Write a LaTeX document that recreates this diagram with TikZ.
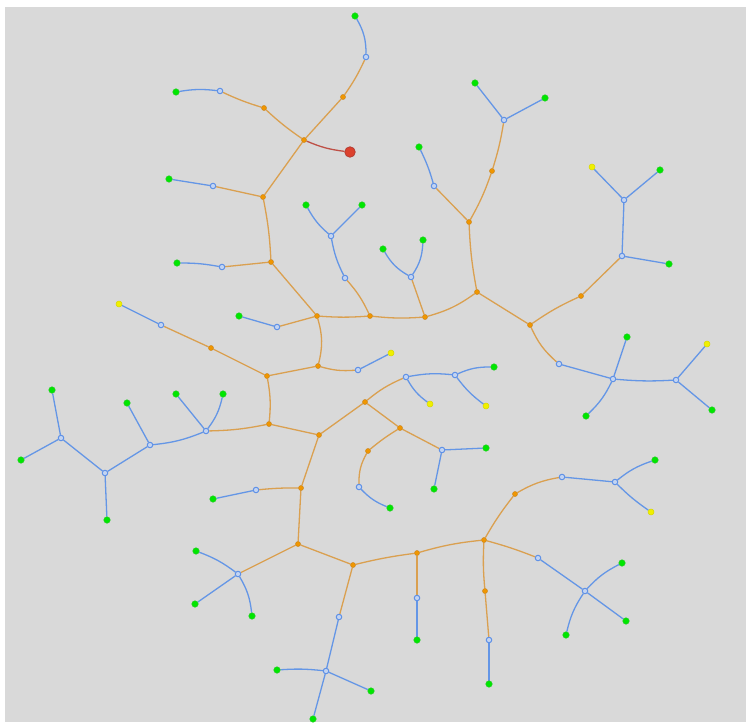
\documentclass[tikz,border=0pt]{standalone}
\usetikzlibrary{backgrounds}
\pgfdeclarelayer{bgl}
\pgfdeclarelayer{edgel}
\pgfsetlayers{bgl,edgel,main}
\definecolor{bgc}{RGB}{217,217,217}
\definecolor{oedge}{RGB}{218,160,80}
\definecolor{bedge}{RGB}{100,150,230}
\definecolor{redge}{RGB}{190,80,70}
\definecolor{ofill}{RGB}{240,150,0}
\definecolor{odraw}{RGB}{205,135,30}
\definecolor{bfill}{RGB}{195,212,242}
\definecolor{bdraw}{RGB}{95,145,230}
\definecolor{gfill}{RGB}{0,230,0}
\definecolor{gdraw}{RGB}{40,205,40}
\definecolor{yfill}{RGB}{240,240,0}
\definecolor{ydraw}{RGB}{215,215,0}
\definecolor{rfill}{RGB}{220,65,45}
\definecolor{rdraw}{RGB}{180,60,50}
\tikzset{
  on/.style={circle,fill=ofill,draw=odraw,line width=0.5pt,inner sep=0pt,minimum size=5pt},
  bn/.style={circle,fill=bfill,draw=bdraw,line width=1pt,inner sep=0pt,minimum size=5.5pt},
  gn/.style={circle,fill=gfill,draw=gdraw,line width=0.5pt,inner sep=0pt,minimum size=6.5pt},
  yn/.style={circle,fill=yfill,draw=ydraw,line width=0.5pt,inner sep=0pt,minimum size=6pt},
  rn/.style={circle,fill=rfill,draw=rdraw,line width=0.8pt,inner sep=0pt,minimum size=10.5pt},
  oe/.style={draw=oedge,line width=1.3pt},
  be/.style={draw=bedge,line width=1.3pt},
  re/.style={draw=redge,line width=1.3pt},
}
\begin{document}
\begin{tikzpicture}[x=1pt,y=1pt]
\useasboundingbox (0,0) rectangle (746,-722);
\begin{pgfonlayer}{bgl}
\fill[white] (0,0) rectangle (746,-722);
\fill[bgc] (5,-7) rectangle (746,-722);
\end{pgfonlayer}
% orange nodes
\node[on] (o1) at (304,-140) {};
\node[on] (o2) at (343,-97) {};
\node[on] (o3) at (264,-108) {};
\node[on] (o4) at (263,-197) {};
\node[on] (o5) at (271,-262) {};
\node[on] (o6) at (317,-316) {};
\node[on] (o7) at (370,-316) {};
\node[on] (o8) at (425,-317) {};
\node[on] (o9) at (477,-292) {};
\node[on] (o10) at (469,-222) {};
\node[on] (o11) at (492,-171) {};
\node[on] (o12) at (530,-325) {};
\node[on] (o13) at (581,-296) {};
\node[on] (o14) at (318,-366) {};
\node[on] (o15) at (267,-376) {};
\node[on] (o16) at (211,-348) {};
\node[on] (o17) at (269,-424) {};
\node[on] (o18) at (319,-435) {};
\node[on] (o19) at (365,-402) {};
\node[on] (o20) at (400,-428) {};
\node[on] (o21) at (368,-451) {};
\node[on] (o22) at (301,-488) {};
\node[on] (o23) at (298,-544) {};
\node[on] (o24) at (353,-565) {};
\node[on] (o25) at (417,-553) {};
\node[on] (o26) at (484,-540) {};
\node[on] (o27) at (485,-591) {};
\node[on] (o28) at (515,-494) {};
% blue nodes
\node[bn] (b1) at (366,-57) {};
\node[bn] (b2) at (220,-91) {};
\node[bn] (b3) at (213,-186) {};
\node[bn] (b4) at (222,-267) {};
\node[bn] (b5) at (277,-327) {};
\node[bn] (b6) at (345,-278) {};
\node[bn] (b7) at (331,-236) {};
\node[bn] (b8) at (411,-277) {};
\node[bn] (b9) at (434,-186) {};
\node[bn] (b10) at (504,-120) {};
\node[bn] (b11) at (622,-256) {};
\node[bn] (b12) at (624,-200) {};
\node[bn] (b13) at (559,-364) {};
\node[bn] (b14) at (613,-379) {};
\node[bn] (b15) at (676,-380) {};
\node[bn] (b16) at (358,-370) {};
\node[bn] (b17) at (161,-325) {};
\node[bn] (b18) at (206,-431) {};
\node[bn] (b19) at (150,-445) {};
\node[bn] (b20) at (105,-473) {};
\node[bn] (b21) at (61,-438) {};
\node[bn] (b22) at (406,-377) {};
\node[bn] (b23) at (455,-375) {};
\node[bn] (b24) at (359,-487) {};
\node[bn] (b25) at (442,-450) {};
\node[bn] (b26) at (256,-490) {};
\node[bn] (b27) at (238,-574) {};
\node[bn] (b28) at (339,-617) {};
\node[bn] (b29) at (326,-671) {};
\node[bn] (b30) at (417,-598) {};
\node[bn] (b31) at (489,-640) {};
\node[bn] (b32) at (562,-477) {};
\node[bn] (b33) at (615,-482) {};
\node[bn] (b34) at (538,-558) {};
\node[bn] (b35) at (585,-591) {};
% leaves
\node[gn] (g1) at (355,-16) {};
\node[gn] (g2) at (176,-92) {};
\node[gn] (g3) at (169,-179) {};
\node[gn] (g4) at (177,-263) {};
\node[gn] (g5) at (239,-316) {};
\node[gn] (g6) at (306,-205) {};
\node[gn] (g7) at (362,-205) {};
\node[gn] (g8) at (383,-249) {};
\node[gn] (g9) at (423,-240) {};
\node[gn] (g10) at (419,-147) {};
\node[gn] (g11) at (475,-83) {};
\node[gn] (g12) at (545,-98) {};
\node[gn] (g13) at (669,-264) {};
\node[gn] (g14) at (660,-170) {};
\node[yn] (y1) at (592,-167) {};
\node[gn] (g15) at (627,-337) {};
\node[gn] (g16) at (586,-416) {};
\node[yn] (y2) at (707,-344) {};
\node[gn] (g17) at (712,-410) {};
\node[yn] (y3) at (391,-353) {};
\node[yn] (y4) at (119,-304) {};
\node[gn] (g18) at (176,-394) {};
\node[gn] (g19) at (223,-394) {};
\node[gn] (g20) at (127,-403) {};
\node[gn] (g21) at (107,-520) {};
\node[gn] (g22) at (52,-390) {};
\node[gn] (g23) at (21,-460) {};
\node[yn] (y5) at (430,-404) {};
\node[gn] (g24) at (494,-367) {};
\node[yn] (y6) at (486,-406) {};
\node[gn] (g25) at (390,-508) {};
\node[gn] (g26) at (486,-448) {};
\node[gn] (g27) at (434,-489) {};
\node[gn] (g28) at (213,-499) {};
\node[gn] (g29) at (196,-551) {};
\node[gn] (g30) at (195,-604) {};
\node[gn] (g31) at (252,-616) {};
\node[gn] (g32) at (277,-670) {};
\node[gn] (g33) at (371,-691) {};
\node[gn] (g34) at (313,-719) {};
\node[gn] (g35) at (417,-640) {};
\node[gn] (g36) at (489,-684) {};
\node[gn] (g37) at (655,-460) {};
\node[yn] (y7) at (651,-512) {};
\node[gn] (g38) at (622,-563) {};
\node[gn] (g39) at (626,-621) {};
\node[gn] (g40) at (566,-635) {};
\node[rn] (r) at (350,-152) {};
\begin{pgfonlayer}{edgel}
\draw[re] (o1) to[bend right=8] (r);
% orange edges
\draw[oe] (o1) -- (o2);
\draw[oe] (o2) to[bend right=5] (b1);
\draw[oe] (o1) to[bend left=4] (o3);
\draw[oe] (o3) to[bend left=4] (b2);
\draw[oe] (o1) -- (o4);
\draw[oe] (o4) -- (b3);
\draw[oe] (o4) to[bend left=4] (o5);
\draw[oe] (o5) -- (b4);
\draw[oe] (o5) -- (o6);
\draw[oe] (o6) -- (b5);
\draw[oe] (o6) to[bend right=4] (o7);
\draw[oe] (o7) to[bend right=8] (b6);
\draw[oe] (o7) to[bend right=5] (o8);
\draw[oe] (o8) -- (b8);
\draw[oe] (o8) to[bend right=10] (o9);
\draw[oe] (o9) to[bend left=4] (o10);
\draw[oe] (o10) -- (b9);
\draw[oe] (o10) to[bend right=5] (o11);
\draw[oe] (o11) to[bend right=4] (b10);
\draw[oe] (o9) -- (o12);
\draw[oe] (o12) to[bend left=5] (o13);
\draw[oe] (o13) -- (b11);
\draw[oe] (o12) to[bend right=12] (b13);
\draw[oe] (o6) to[bend left=15] (o14);
\draw[oe] (o14) to[bend right=10] (b16);
\draw[oe] (o14) -- (o15);
\draw[oe] (o15) -- (o16);
\draw[oe] (o16) -- (b17);
\draw[oe] (o15) to[bend left=8] (o17);
\draw[oe] (o17) to[bend left=5] (b18);
\draw[oe] (o17) -- (o18);
\draw[oe] (o18) -- (o19);
\draw[oe] (o19) to[bend left=8] (b22);
\draw[oe] (o19) -- (o20);
\draw[oe] (o20) to[bend right=4] (o21);
\draw[oe] (o21) to[bend right=15] (b24);
\draw[oe] (o20) -- (b25);
\draw[oe] (o18) -- (o22);
\draw[oe] (o22) to[bend right=3] (b26);
\draw[oe] (o22) -- (o23);
\draw[oe] (o23) -- (b27);
\draw[oe] (o23) -- (o24);
\draw[oe] (o24) -- (b28);
\draw[oe] (o24) to[bend left=3] (o25);
\draw[oe] (o25) -- (b30);
\draw[oe] (o25) to[bend left=5] (o26);
\draw[oe] (o26) to[bend right=4] (o27);
\draw[oe] (o27) -- (b31);
\draw[oe] (o26) to[bend left=4] (o28);
\draw[oe] (o28) to[bend left=10] (b32);
\draw[oe] (o26) to[bend left=3] (b34);
% blue edges
\draw[be] (b1) to[bend right=15] (g1);
\draw[be] (b2) to[bend right=8] (g2);
\draw[be] (b3) -- (g3);
\draw[be] (b4) to[bend right=5] (g4);
\draw[be] (b5) -- (g5);
\draw[be] (b6) to[bend left=8] (b7);
\draw[be] (b7) to[bend left=10] (g6);
\draw[be] (b7) -- (g7);
\draw[be] (b8) to[bend left=15] (g8);
\draw[be] (b8) to[bend right=15] (g9);
\draw[be] (b9) to[bend right=5] (g10);
\draw[be] (b10) -- (g11);
\draw[be] (b10) -- (g12);
\draw[be] (b11) -- (g13);
\draw[be] (b11) -- (b12);
\draw[be] (b12) -- (g14);
\draw[be] (b12) -- (y1);
\draw[be] (b13) -- (b14);
\draw[be] (b14) -- (g15);
\draw[be] (b14) to[bend left=10] (g16);
\draw[be] (b14) to[bend right=4] (b15);
\draw[be] (b15) -- (y2);
\draw[be] (b15) -- (g17);
\draw[be] (b16) -- (y3);
\draw[be] (b17) -- (y4);
\draw[be] (b18) -- (g18);
\draw[be] (b18) to[bend right=12] (g19);
\draw[be] (b18) to[bend left=8] (b19);
\draw[be] (b19) -- (g20);
\draw[be] (b19) -- (b20);
\draw[be] (b20) -- (g21);
\draw[be] (b20) -- (b21);
\draw[be] (b21) -- (g22);
\draw[be] (b21) -- (g23);
\draw[be] (b22) to[bend right=12] (y5);
\draw[be] (b22) to[bend left=8] (b23);
\draw[be] (b23) to[bend left=12] (g24);
\draw[be] (b23) to[bend right=8] (y6);
\draw[be] (b24) to[bend right=12] (g25);
\draw[be] (b25) -- (g26);
\draw[be] (b25) -- (g27);
\draw[be] (b26) -- (g28);
\draw[be] (b27) to[bend right=8] (g29);
\draw[be] (b27) -- (g30);
\draw[be] (b27) to[bend left=12] (g31);
\draw[be] (b28) -- (b29);
\draw[be] (b29) to[bend right=5] (g32);
\draw[be] (b29) -- (g33);
\draw[be] (b29) -- (g34);
\draw[be] (b30) -- (g35);
\draw[be] (b31) -- (g36);
\draw[be] (b32) -- (b33);
\draw[be] (b33) to[bend left=10] (g37);
\draw[be] (b33) to[bend right=5] (y7);
\draw[be] (b34) -- (b35);
\draw[be] (b35) to[bend left=10] (g38);
\draw[be] (b35) -- (g39);
\draw[be] (b35) to[bend right=10] (g40);
\end{pgfonlayer}
\end{tikzpicture}
\end{document}
